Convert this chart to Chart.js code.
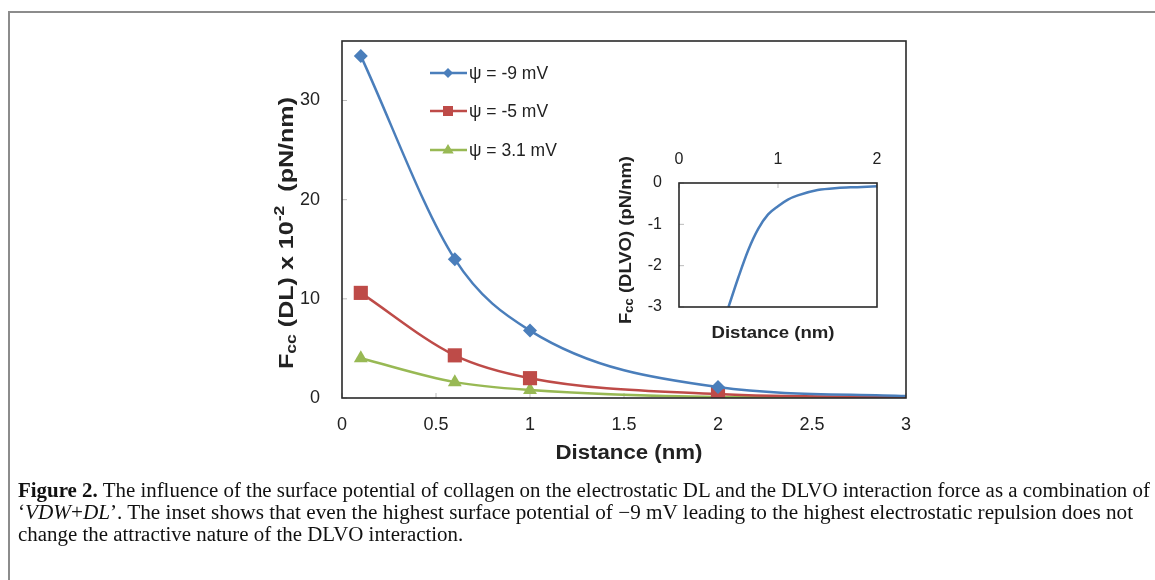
<!DOCTYPE html>
<html lang="en">
<head>
<meta charset="UTF-8">
<title>Figure 2 - DL and DLVO force</title>
<script src="https://cdn.jsdelivr.net/npm/chart.js"></script>
<style>
    body {
        margin: 0;
        width: 1155px;
        height: 580px;
        overflow: hidden;
        background: #fff;
        font-family: "Liberation Sans", Arial, sans-serif;
    }
    #frame {
        position: absolute;
        left: 8px;
        top: 11px;
        width: 1200px;
        height: 600px;
        border-top: 2px solid #8c8c8c;
        border-left: 2px solid #8c8c8c;
    }
    #mainChart { position: absolute; left: 0; top: 0; }
    #insetChart { position: absolute; left: 600px; top: 120px; }
    #caption {
        position: absolute;
        left: 18px;
        top: 479px;
        font-family: "Liberation Serif", "DejaVu Serif", serif;
        font-size: 20.5px;
        color: #111;
    }
    #caption div {
        white-space: nowrap;
        height: 22px;
        line-height: 22px;
    }
    #caption span.ln { display: inline-block; transform-origin: left center; }
</style>
</head>
<body>
<div id="frame"></div>
<canvas id="mainChart" width="1155" height="580"></canvas>
<canvas id="insetChart" width="300" height="230"></canvas>

<div id="caption">
    <div><span class="ln" data-w="1132"><b>Figure 2.</b> The influence of the surface potential of collagen on the electrostatic DL and the DLVO interaction force as a combination of</span></div>
    <div><span class="ln" data-w="1115">‘<i>VDW</i>+<i>DL</i>’. The inset shows that even the highest surface potential of −9 mV leading to the highest electrostatic repulsion does not</span></div>
    <div><span class="ln">change the attractive nature of the DLVO interaction.</span></div>
</div>

<script>
// main chart data
const distances = [0.1, 0.6, 1, 2, 3];
const psiMinus9 = [34.5, 14.0, 6.8, 1.1, 0.2];
const psiMinus5 = [10.6, 4.3, 2.0, 0.4, 0.06];
const psiPlus31 = [4.0, 1.6, 0.8, 0.1, 0.02];
const seriesLabels = ['ψ = -9 mV', 'ψ = -5 mV', 'ψ = 3.1 mV'];
const xTicks = [0, 0.5, 1, 1.5, 2, 2.5, 3];
const yTicks = [0, 10, 20, 30];

// inset data (DLVO force)
const insetDistances = [0.5, 0.6, 0.7, 0.8, 0.9, 1.0, 1.1, 1.2, 1.4, 1.6, 1.8, 2.0];
const insetForce = [-3.0, -2.28, -1.62, -1.11, -0.76, -0.56, -0.40, -0.30, -0.17, -0.12, -0.10, -0.08];
const insetXTicks = [0, 1, 2];
const insetYTicks = [0, -1, -2, -3];

const BLUE = '#4A7EBB';
const RED = '#BE4B48';
const GREEN = '#98B954';
const TXT = '#222';
const SANS = '"Liberation Sans", Arial, sans-serif';

function toXY(xs, ys) {
    return xs.map((x, i) => ({ x: x, y: ys[i] }));
}

// text with sub/superscript parts, rotated -90deg around (cx, cy), stretched to len
function drawRichRotated(ctx, cx, cy, parts, len) {
    ctx.save();
    ctx.translate(cx, cy);
    ctx.rotate(-Math.PI / 2);
    ctx.textBaseline = 'middle';
    ctx.textAlign = 'left';
    ctx.fillStyle = TXT;
    let total = 0;
    parts.forEach(p => { ctx.font = p.f; total += ctx.measureText(p.t).width; });
    if (len) ctx.scale(len / total, 1);
    let x = -total / 2;
    parts.forEach(p => {
        ctx.font = p.f;
        ctx.fillText(p.t, x, p.dy || 0);
        x += ctx.measureText(p.t).width;
    });
    ctx.restore();
}

function drawStretched(ctx, text, cx, cy, font, len) {
    ctx.save();
    ctx.fillStyle = TXT;
    ctx.font = font;
    ctx.textAlign = 'center';
    ctx.textBaseline = 'middle';
    const w = ctx.measureText(text).width;
    ctx.translate(cx, cy);
    ctx.scale(len / w, 1);
    ctx.fillText(text, 0, 0);
    ctx.restore();
}

function drawMarker(ctx, style, x, y, r, color) {
    ctx.save();
    ctx.fillStyle = color;
    ctx.beginPath();
    if (style === 'rectRot') {
        ctx.moveTo(x, y - r); ctx.lineTo(x + r, y); ctx.lineTo(x, y + r); ctx.lineTo(x - r, y);
    } else if (style === 'rect') {
        ctx.rect(x - r, y - r, 2 * r, 2 * r);
    } else {
        ctx.moveTo(x, y - r); ctx.lineTo(x + r * 0.95, y + r * 0.6); ctx.lineTo(x - r * 0.95, y + r * 0.6);
    }
    ctx.closePath();
    ctx.fill();
    ctx.restore();
}

// box around plot area + small inner tick marks
function boxPlugin(xTop) {
    return {
        id: 'box',
        beforeDatasetsDraw(chart) {
            const { ctx, chartArea: a } = chart;
            const xs = chart.scales.x, ys = chart.scales.y;
            ctx.save();
            ctx.strokeStyle = '#bbb';
            ctx.lineWidth = 1;
            xs.ticks.forEach(t => {
                const px = xs.getPixelForValue(t.value);
                ctx.beginPath();
                if (xTop) { ctx.moveTo(px, a.top); ctx.lineTo(px, a.top + 5); }
                else { ctx.moveTo(px, a.bottom); ctx.lineTo(px, a.bottom - 5); }
                ctx.stroke();
            });
            ys.ticks.forEach(t => {
                const py = ys.getPixelForValue(t.value);
                ctx.beginPath();
                ctx.moveTo(a.left, py); ctx.lineTo(a.left + 5, py);
                ctx.stroke();
            });
            ctx.restore();
        },
        afterDraw(chart) {
            const { ctx, chartArea: a } = chart;
            ctx.save();
            ctx.strokeStyle = '#2a2a2a';
            ctx.lineWidth = 1.6;
            ctx.strokeRect(a.left, a.top, a.right - a.left, a.bottom - a.top);
            ctx.restore();
        }
    };
}

const mainLabels = {
    id: 'mainLabels',
    afterDraw(chart) {
        const ctx = chart.ctx;
        const a = chart.chartArea;
        drawStretched(ctx, 'Distance (nm)', (a.left + a.right) / 2 + 5, 453, 'bold 20px ' + SANS, 147);
        drawRichRotated(ctx, 287, 233, [
            { t: 'F', f: 'bold 20px ' + SANS },
            { t: 'cc', f: 'bold 14px ' + SANS, dy: 5 },
            { t: ' (DL) x 10', f: 'bold 20px ' + SANS },
            { t: '-2', f: 'bold 14px ' + SANS, dy: -7 },
            { t: '  (pN/nm)', f: 'bold 20px ' + SANS }
        ], 272);
        // legend
        const rows = [73, 111, 150];
        chart.data.datasets.forEach((ds, i) => {
            const y = rows[i];
            ctx.save();
            ctx.strokeStyle = ds.borderColor;
            ctx.lineWidth = 2.5;
            ctx.beginPath();
            ctx.moveTo(430, y); ctx.lineTo(467, y);
            ctx.stroke();
            ctx.restore();
            const r = ds.pointStyle === 'triangle' ? 6 : 5;
            drawMarker(ctx, ds.pointStyle, 448, y, r, ds.borderColor);
            ctx.save();
            ctx.fillStyle = TXT;
            ctx.font = '17.5px ' + SANS;
            ctx.textBaseline = 'middle';
            ctx.fillText(ds.label, 469, y + 1);
            ctx.restore();
        });
    }
};

function radii(r) {
    const a = distances.map(() => r);
    a[a.length - 1] = 0;
    return a;
}

new Chart(document.getElementById('mainChart'), {
    type: 'line',
    data: {
        datasets: [
            { label: seriesLabels[0], data: toXY(distances, psiMinus9), borderColor: BLUE, backgroundColor: BLUE,
              pointStyle: 'rectRot', pointRadius: radii(7) },
            { label: seriesLabels[1], data: toXY(distances, psiMinus5), borderColor: RED, backgroundColor: RED,
              pointStyle: 'rect', pointRadius: radii(10) },
            { label: seriesLabels[2], data: toXY(distances, psiPlus31), borderColor: GREEN, backgroundColor: GREEN,
              pointStyle: 'triangle', pointRadius: radii(8) }
        ]
    },
    options: {
        responsive: false,
        animation: false,
        layout: { padding: { left: 260, right: 249, top: 41, bottom: 122 } },
        elements: {
            line: { borderWidth: 2.5, cubicInterpolationMode: 'monotone' },
            point: { borderWidth: 0 }
        },
        plugins: { legend: { display: false }, tooltip: { enabled: false } },
        scales: {
            x: {
                type: 'linear', min: 0, max: 3,
                afterFit: s => { s.height = 60; },
                afterBuildTicks: s => { s.ticks = xTicks.map(v => ({ value: v })); },
                grid: { display: false },
                border: { display: false },
                ticks: { color: TXT, font: { size: 18, family: SANS }, padding: 8,
                         maxRotation: 0, callback: v => String(v) }
            },
            y: {
                min: 0, max: 36,
                afterFit: s => { s.width = 82; },
                afterBuildTicks: s => { s.ticks = yTicks.map(v => ({ value: v })); },
                grid: { display: false },
                border: { display: false },
                ticks: { color: TXT, font: { size: 18, family: SANS }, padding: 14 }
            }
        }
    },
    plugins: [boxPlugin(false), mainLabels]
});

const insetLabels = {
    id: 'insetLabels',
    afterDraw(chart) {
        const ctx = chart.ctx;
        const xs = chart.scales.x;
        // top tick labels
        ctx.save();
        ctx.fillStyle = TXT;
        ctx.font = '16px ' + SANS;
        ctx.textAlign = 'center';
        ctx.textBaseline = 'middle';
        insetXTicks.forEach(v => ctx.fillText(String(v), xs.getPixelForValue(v), 40));
        ctx.restore();
        drawStretched(ctx, 'Distance (nm)', 173, 213, 'bold 17px ' + SANS, 123);
        drawRichRotated(ctx, 26, 120, [
            { t: 'F', f: 'bold 17px ' + SANS },
            { t: 'cc', f: 'bold 12px ' + SANS, dy: 4 },
            { t: ' (DLVO) (pN/nm)', f: 'bold 17px ' + SANS }
        ], 168);
    }
};

new Chart(document.getElementById('insetChart'), {
    type: 'line',
    data: {
        datasets: [{
            label: 'DLVO', data: toXY(insetDistances, insetForce), borderColor: BLUE,
            borderWidth: 2.5, pointRadius: 0, cubicInterpolationMode: 'monotone'
        }]
    },
    options: {
        responsive: false,
        animation: false,
        layout: { padding: { left: 29, right: 23, top: 33, bottom: 43 } },
        plugins: { legend: { display: false }, tooltip: { enabled: false } },
        scales: {
            x: {
                type: 'linear', position: 'top', min: 0, max: 2,
                afterFit: s => { s.height = 30; },
                afterBuildTicks: s => { s.ticks = insetXTicks.map(v => ({ value: v })); },
                grid: { display: false },
                border: { display: false },
                ticks: { display: false }
            },
            y: {
                min: -3, max: 0,
                afterFit: s => { s.width = 50; },
                afterBuildTicks: s => { s.ticks = insetYTicks.map(v => ({ value: v })); },
                grid: { display: false },
                border: { display: false },
                ticks: { color: TXT, font: { size: 16, family: SANS }, padding: 9 }
            }
        }
    },
    plugins: [boxPlugin(true), insetLabels]
});

// fit caption lines to the reference widths (line 3 keeps line 1's scale)
let firstScale = 1;
document.querySelectorAll('#caption span.ln').forEach((el, i) => {
    const w = el.getBoundingClientRect().width;
    const target = parseFloat(el.dataset.w);
    const s = target ? target / w : firstScale;
    if (i === 0) firstScale = s;
    el.style.transform = 'scaleX(' + s.toFixed(4) + ')';
});
</script>
</body>
</html>
